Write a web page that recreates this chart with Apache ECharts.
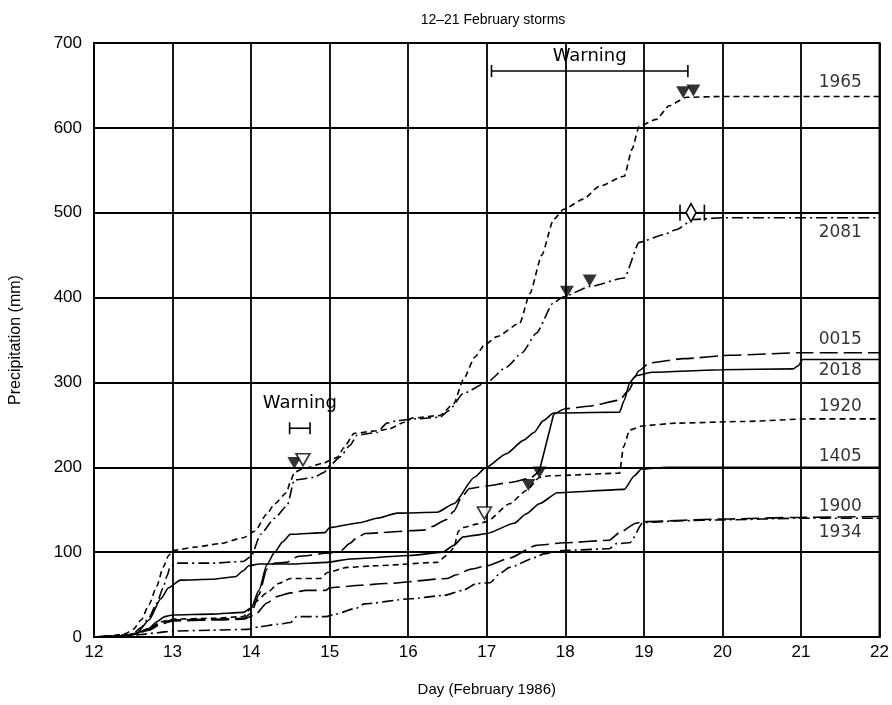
<!DOCTYPE html>
<html>
<head>
<meta charset="utf-8">
<script src="https://cdn.jsdelivr.net/npm/echarts@6/dist/echarts.min.js"></script>
<style>
  html, body { margin: 0; padding: 0; background: #fff; }
  #chart { width: 892px; height: 705px; }
</style>
</head>
<body>
<div id="chart"></div>
<script>
// Cumulative precipitation (mm) by gauge, as [day of February 1986, mm]
const s1965 = [[12.0,0],[12.2,1],[12.4,4],[12.5,9],[12.6,20],[12.7,38],[12.8,60],[12.88,82],[12.95,96],[13.0,102],[13.3,106],[13.6,110],[13.9,117],[14.05,125],[14.2,145],[14.3,157],[14.45,170],[14.5,183],[14.55,194],[14.65,198],[14.93,205],[15.0,208],[15.1,212],[15.18,223],[15.31,240],[15.6,243],[15.75,245],[15.95,253],[16.05,258],[16.4,261],[16.58,275],[16.7,303],[16.85,330],[16.97,344],[17.13,354],[17.42,370],[17.55,405],[17.7,450],[17.85,492],[17.98,504],[18.23,516],[18.43,531],[18.75,543],[18.85,575],[18.94,602],[19.16,610],[19.32,626],[19.54,636],[20.0,637],[22.0,637]];
const s2081 = [[12.0,0],[12.3,1],[12.5,4],[12.6,11],[12.7,23],[12.8,40],[12.88,58],[12.93,72],[12.97,83],[13.05,87],[13.5,87],[13.9,89],[14.0,95],[14.12,121],[14.3,140],[14.46,155],[14.55,185],[14.8,188],[14.93,194],[15.0,202],[15.13,212],[15.26,226],[15.35,238],[15.6,241],[15.73,252],[15.86,255],[16.1,257],[16.4,259],[16.52,267],[16.7,287],[17.0,300],[17.25,318],[17.45,335],[17.63,358],[17.85,394],[17.98,401],[18.31,413],[18.75,423],[18.94,465],[19.25,474],[19.41,480],[19.63,492],[20.0,494],[22.0,494]];
const s0015 = [[12.0,0],[12.3,1],[12.5,3],[12.7,9],[12.85,17],[13.0,20],[13.5,21],[13.9,22],[14.0,28],[14.1,50],[14.2,80],[14.3,87],[14.45,88],[14.6,95],[15.0,99],[15.15,102],[15.25,110],[15.35,117],[15.45,122],[16.2,126],[16.3,130],[16.48,138],[16.58,148],[16.68,165],[16.78,175],[17.0,178],[17.29,182],[17.55,187],[17.67,196],'-',[17.85,262],[18.0,269],[18.3,272],[18.69,279],[18.8,290],[18.94,314],[19.07,323],[19.5,328],[20.1,332],[21.0,335],[22.0,335]];
const s0015Jump = [[17.67,196],[17.85,262]];
const s2018 = [[12.0,0],[12.3,1],[12.5,3],[12.7,10],[12.8,18],[12.9,24],[13.0,26],[13.5,27],[13.9,29],[14.0,34],[14.1,55],[14.2,85],[14.3,100],[14.4,112],[14.5,121],[14.94,123],[15.0,129],[15.4,135],[15.6,140],[15.86,146],[16.37,147],[16.58,157],[16.84,188],[16.98,199],[17.25,216],[17.47,232],[17.6,241],[17.72,255],[17.85,264],[18.0,264],[18.69,265],[18.75,279],[18.82,300],[18.9,308],[19.1,312],[20.0,315],[20.9,316],[20.97,320],[21.02,327],[22.0,327]];
const s1920 = [[12.0,0],[12.3,1],[12.5,3],[12.7,10],[12.85,18],[13.0,21],[13.5,22],[13.9,24],[14.0,34],[14.05,41],[14.2,52],[14.35,63],[14.5,69],[14.88,69],[14.97,76],[15.22,82],[15.6,84],[16.37,88],[16.49,96],[16.58,105],[16.64,125],[16.7,129],[16.87,133],[17.0,136],[17.29,157],[17.51,173],[17.67,188],[17.8,190],[18.69,193],[18.74,224],[18.82,244],[18.99,249],[19.41,252],[20.26,254],[21.1,257],[22.0,257]];
const s1405 = [[12.0,0],[12.4,1],[12.55,5],[12.7,20],[12.85,45],[12.95,58],[13.1,67],[13.5,68],[13.8,71],[13.9,78],[13.97,84],[14.1,86],[14.5,86],[14.97,88],[15.26,92],[16.02,96],[16.44,100],[16.58,108],[16.7,118],[16.87,120],[17.0,122],[17.35,134],[17.5,145],[17.67,157],[17.9,170],[18.75,174],[18.88,190],[18.97,198],[19.3,200],[22.0,200]];
const s1900 = [[12.0,0],[12.3,1],[12.5,3],[12.7,8],[12.85,15],[13.0,19],[13.5,20],[13.9,21],[14.05,26],[14.2,40],[14.34,48],[14.5,52],[14.7,55],[14.95,55],[15.0,58],[15.4,61],[15.7,63],[16.5,69],[16.6,73],[16.8,80],[17.0,84],[17.29,93],[17.63,108],[17.98,111],[18.56,114],[18.69,123],[18.9,134],[19.0,136],[20.0,139],[21.0,141],[22.0,142]];
const s1934 = [[12.0,0],[12.4,1],[12.6,3],[12.8,5],[13.0,7],[13.5,8],[13.95,9],[14.1,12],[14.34,15],[14.5,17],[14.58,24],[14.95,24],[15.08,27],[15.34,34],[15.44,39],[16.02,45],[16.45,49],[16.7,55],[16.87,63],[17.04,64],[17.17,75],[17.29,82],[17.63,94],[17.72,98],[17.98,102],[18.56,104],[18.65,110],[18.82,111],[18.99,135],[19.5,137],[20.0,138],[21.0,140],[22.0,140]];

// Event markers
const filledMarks = [[14.55,205],[18.02,407],[18.31,420],[19.5,642],[19.63,644],[17.53,179],[17.67,194]];
const openMarks = [[14.66,209],[16.97,146]];
// Warning periods: [start day, end day, level mm]
const warnSpans = [[17.06,19.56,667],[14.49,14.75,246]];
// Peak range: [start day, end day, centre day, mm]
const peakSpans = [[19.46,19.77,19.6,500]];

// Axis tick labels
const xTicks = [12,13,14,15,16,17,18,19,20,21,22];
const yTicks = [0,100,200,300,400,500,600,700];

// Drawing styles per gauge
const SHORT = [6,4], LONG = [18,6], DASHDOT = [11,4,2,4];
const gauges = [
  { name: '1965', data: s1965, dash: SHORT,   dy: -14 },
  { name: '2081', data: s2081, dash: DASHDOT, dy: 15 },
  { name: '0015', data: s0015, dash: LONG,    dy: -13 },
  { name: '2018', data: s2018, dash: 'solid', dy: 11 },
  { name: '1920', data: s1920, dash: SHORT,   dy: -12 },
  { name: '1405', data: s1405, dash: 'solid', dy: -11 },
  { name: '1900', data: s1900, dash: LONG,    dy: -10 },
  { name: '1934', data: s1934, dash: DASHDOT, dy: 14 }
];
const warnLabelLift = [15, 25];
const FONT = 'Liberation Sans, Arial, sans-serif';
const MARKFONT = 'DejaVu Sans, sans-serif';
const LW = 1.6;

const lineSeries = gauges.map(g => ({
  name: g.name,
  type: 'line',
  data: g.data,
  showSymbol: false,
  symbol: 'none',
  connectNulls: false,
  smooth: 0.2,
  smoothMonotone: 'x',
  lineStyle: { color: '#000', width: LW, type: g.dash },
  z: 3
}));

const gaugeLabels = {
  type: 'scatter',
  symbolSize: 0,
  silent: true,
  data: gauges.map(g => {
    const last = g.data[g.data.length - 1];
    return {
      value: [21.5, last[1]],
      label: {
        show: true, formatter: g.name, position: 'inside',
        offset: [0, g.dy], color: '#000', fontSize: 17, fontFamily: MARKFONT
      }
    };
  }),
  z: 5
};

const chart = echarts.init(document.getElementById('chart'), null, { renderer: 'canvas' });
chart.setOption({
  animation: false,
  backgroundColor: '#fff',
  title: {
    text: '12\u201321 February storms',
    left: 488, top: 8, textAlign: 'center',
    textStyle: { fontSize: 14, fontWeight: 'normal', color: '#000', fontFamily: FONT }
  },
  grid: { left: 94, right: 10, top: 43, bottom: 68, show: true, borderColor: '#000', borderWidth: 2 },
  xAxis: {
    type: 'value', min: xTicks[0], max: xTicks[xTicks.length - 1], interval: 1,
    name: 'Day (February 1986)', nameLocation: 'middle', nameGap: 45,
    nameTextStyle: { fontSize: 15, color: '#000', fontFamily: FONT },
    axisLine: { lineStyle: { color: '#000', width: 2 } },
    axisTick: { show: false },
    axisLabel: { color: '#000', fontSize: 17, margin: 7, fontFamily: FONT,
      formatter: v => xTicks.includes(v) ? String(v) : '' },
    splitLine: { show: true, lineStyle: { color: '#000', width: 1.8 } }
  },
  yAxis: {
    type: 'value', min: yTicks[0], max: yTicks[yTicks.length - 1], interval: 100,
    name: 'Precipitation (mm)', nameLocation: 'middle', nameGap: 70, nameRotate: 90,
    nameTextStyle: { fontSize: 16, color: '#000', fontFamily: FONT },
    axisLine: { lineStyle: { color: '#000', width: 2 } },
    axisTick: { show: false },
    axisLabel: { color: '#000', fontSize: 17, margin: 12, fontFamily: FONT,
      formatter: v => yTicks.includes(v) ? String(v) : '' },
    splitLine: { show: true, lineStyle: { color: '#000', width: 1.8 } }
  },
  series: [
    ...lineSeries,
    {
      type: 'line', data: s0015Jump, showSymbol: false, symbol: 'none',
      lineStyle: { color: '#000', width: LW, type: 'solid' }, z: 3
    },
    gaugeLabels,
    {
      type: 'scatter', data: filledMarks, symbol: 'triangle', symbolRotate: 180,
      symbolSize: [14, 12], itemStyle: { color: '#000' }, z: 6
    },
    {
      type: 'scatter', data: openMarks, symbol: 'triangle', symbolRotate: 180,
      symbolSize: [14, 12], itemStyle: { color: '#fff', borderColor: '#000', borderWidth: 1.6 }, z: 6
    },
    {
      type: 'custom', data: warnSpans, z: 6,
      renderItem: (params, api) => {
        const a = api.coord([api.value(0), api.value(2)]);
        const b = api.coord([api.value(1), api.value(2)]);
        const lift = warnLabelLift[params.dataIndex];
        const st = { stroke: '#000', lineWidth: 1.6 };
        return {
          type: 'group',
          children: [
            { type: 'line', shape: { x1: a[0], y1: a[1], x2: b[0], y2: b[1] }, style: st },
            { type: 'line', shape: { x1: a[0], y1: a[1] - 6, x2: a[0], y2: a[1] + 6 }, style: st },
            { type: 'line', shape: { x1: b[0], y1: b[1] - 6, x2: b[0], y2: b[1] + 6 }, style: st },
            { type: 'text', style: { text: 'Warning', x: (a[0] + b[0]) / 2, y: a[1] - lift,
              align: 'center', verticalAlign: 'middle', font: '18px ' + MARKFONT, fill: '#000' } }
          ]
        };
      }
    },
    {
      type: 'custom', data: peakSpans, z: 6,
      renderItem: (params, api) => {
        const a = api.coord([api.value(0), api.value(3)]);
        const b = api.coord([api.value(1), api.value(3)]);
        const c = api.coord([api.value(2), api.value(3)]);
        const st = { stroke: '#000', lineWidth: 1.6 };
        return {
          type: 'group',
          children: [
            { type: 'line', shape: { x1: a[0], y1: a[1], x2: b[0], y2: b[1] }, style: st },
            { type: 'line', shape: { x1: a[0], y1: a[1] - 8, x2: a[0], y2: a[1] + 8 }, style: st },
            { type: 'line', shape: { x1: b[0], y1: b[1] - 8, x2: b[0], y2: b[1] + 8 }, style: st },
            { type: 'polygon', shape: { points: [[c[0], c[1] - 9], [c[0] + 5, c[1]], [c[0], c[1] + 9], [c[0] - 5, c[1]]] },
              style: { fill: '#fff', stroke: '#000', lineWidth: 1.6 } }
          ]
        };
      }
    }
  ]
});
</script>
</body>
</html>
